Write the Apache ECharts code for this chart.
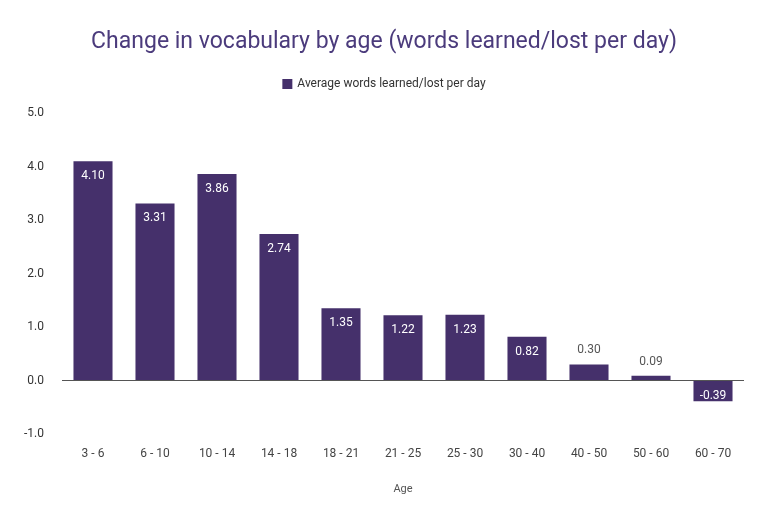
<!DOCTYPE html>
<html>
<head>
<meta charset="utf-8">
<script src="https://cdn.jsdelivr.net/npm/echarts@6/dist/echarts.min.js"></script>
<style>html,body{margin:0;padding:0;background:#fff}#main{width:768px;height:512px}</style>
</head>
<body>
<div id="main"></div>
<script>
// age groups and words per day
const ages = ['3 - 6', '6 - 10', '10 - 14', '14 - 18', '18 - 21', '21 - 25', '25 - 30', '30 - 40', '40 - 50', '50 - 60', '60 - 70']
const wordsPerDay = [4.10, 3.31, 3.86, 2.74, 1.35, 1.22, 1.23, 0.82, 0.30, 0.09, -0.39]

const barColor = '#45306b'

const seriesData = wordsPerDay.map(function (v) {
  // small bars get their label above
  if (v >= 0 && v < 0.5) {
    return { value: v, label: { position: 'top', color: '#555', distance: 8 } }
  }
  return v
})

const chart = echarts.init(document.getElementById('main'))
chart.setOption({
  textStyle: { fontFamily: 'Roboto' },
  title: {
    text: 'Change in vocabulary by age (words learned/lost per day)',
    left: 'center',
    top: 26,
    textStyle: { fontFamily: 'Roboto', fontWeight: 'normal', fontSize: 23, color: '#4b3b7c' }
  },
  legend: {
    top: 73,
    left: 'center',
    icon: 'rect',
    itemWidth: 10,
    itemHeight: 10,
    textStyle: { fontSize: 12, color: '#333' }
  },
  grid: { left: 62, right: 24, top: 113, bottom: 78 },
  xAxis: {
    type: 'category',
    data: ages,
    name: 'Age',
    nameLocation: 'middle',
    nameGap: 50,
    nameTextStyle: { fontSize: 11, color: '#555' },
    axisTick: { show: false },
    axisLine: { onZero: false, show: false },
    axisLabel: { color: '#444', fontSize: 12, margin: 14 }
  },
  yAxis: {
    type: 'value',
    min: -1,
    max: 5,
    interval: 1,
    splitLine: { show: false },
    axisLine: { show: false },
    axisLabel: { color: '#333', fontSize: 12, margin: 18, formatter: function (v) { return v.toFixed(1) } }
  },
  series: [{
    name: 'Average words learned/lost per day',
    type: 'bar',
    barWidth: '63%',
    itemStyle: { color: barColor },
    label: {
      show: true,
      position: 'insideTop',
      distance: 9,
      color: '#fff',
      fontSize: 12,
      formatter: function (p) { return p.value.toFixed(2) }
    },
    markLine: {
      silent: true,
      symbol: 'none',
      label: { show: false },
      lineStyle: { color: '#555', type: 'solid', width: 1 },
      data: [{ yAxis: 0 }]
    },
    data: seriesData
  }]
})
</script>
</body>
</html>
